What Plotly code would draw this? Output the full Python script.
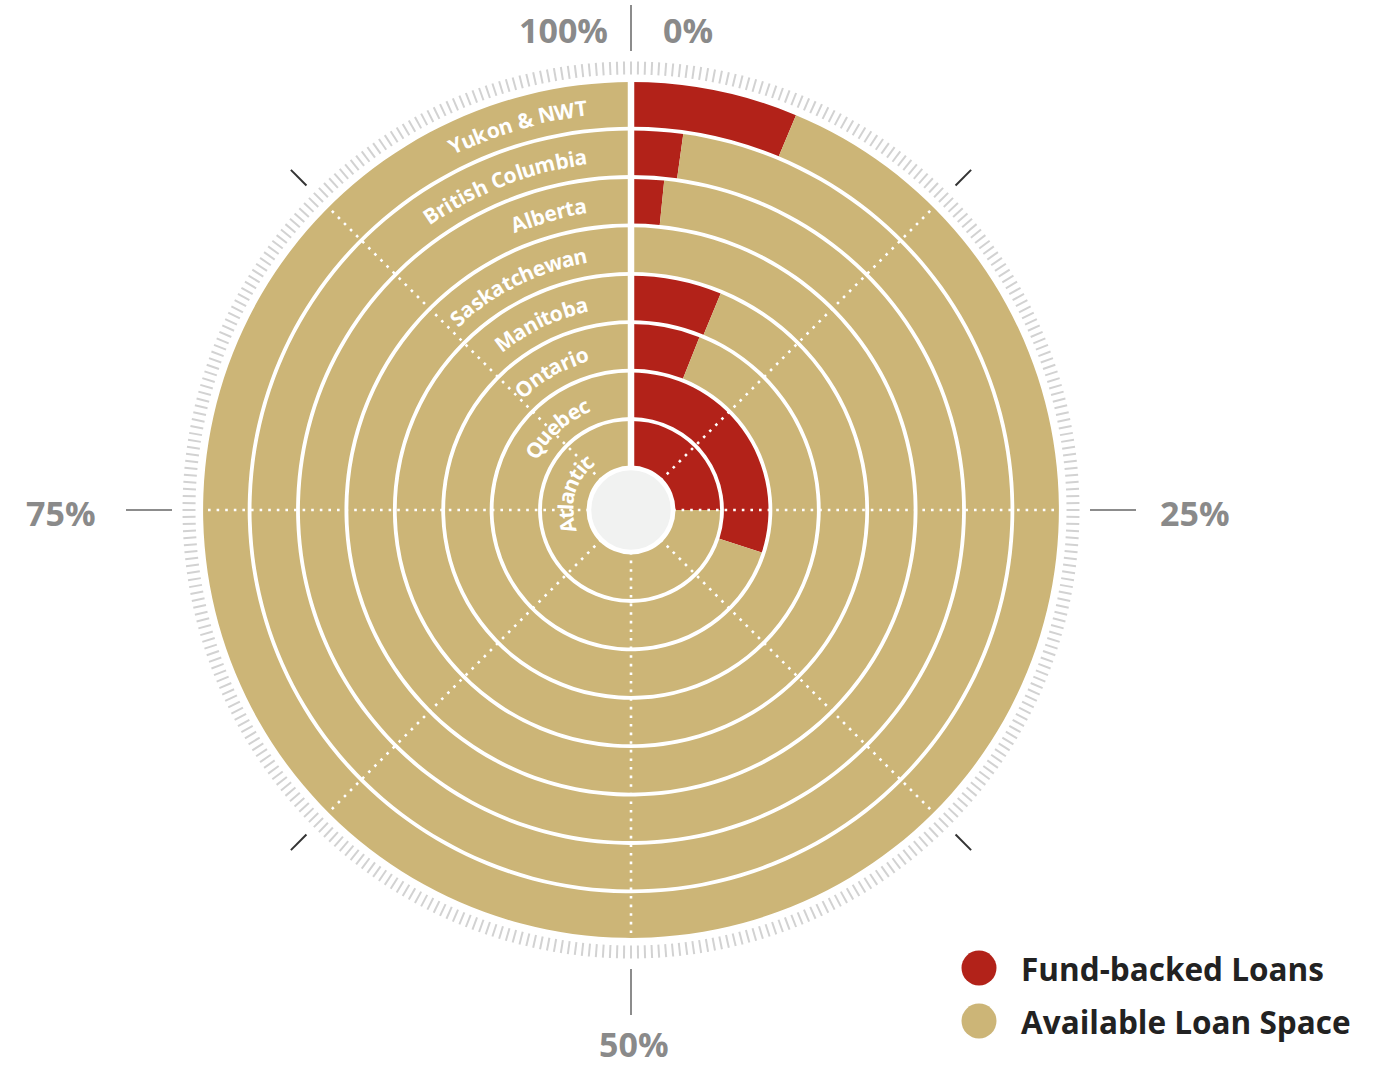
import math
import plotly.graph_objects as go

# ---------------- data ----------------
regions = ["Atlantic", "Quebec", "Ontario", "Manitoba",
           "Saskatchewan", "Alberta", "British Columbia", "Yukon & NWT"]
fund_backed_pct = [25.0, 30.0, 6.0, 6.25, 0.0, 1.6, 2.2, 6.3]
available_pct = [100.0 - v for v in fund_backed_pct]
series_names = ["Fund-backed Loans", "Available Loan Space"]
scale_labels = ["0%", "25%", "50%", "75%", "100%"]

# ---------------- styling / geometry ----------------
W, H = 1391, 1067
CX, CY = 631, 510          # centre of the polar chart (px)
R_AXIS = 435               # radial axis range max (px units)
HOLE = 42
PITCH = 48.4
BAND = 44.6
RED = "#b22219"
TAN = "#ccb577"
HOLE_FILL = "#f1f2f1"
DEG_PER_PCT = 3.6


def paper(px, py):
    return px / W, 1 - py / H


fig = go.Figure()

bases = [HOLE + 2.5 + PITCH * k for k in range(len(regions))]

# red (fund-backed) portions
fig.add_trace(go.Barpolar(
    r=[BAND] * len(regions),
    base=bases,
    theta=[v * DEG_PER_PCT / 2 for v in fund_backed_pct],
    width=[v * DEG_PER_PCT for v in fund_backed_pct],
    marker=dict(color=RED, line=dict(width=0)),
    name=series_names[0], showlegend=False,
    hovertext=regions,
))
# tan (available) portions
fig.add_trace(go.Barpolar(
    r=[BAND] * len(regions),
    base=bases,
    theta=[(f + a / 2) * DEG_PER_PCT for f, a in zip(fund_backed_pct, available_pct)],
    width=[a * DEG_PER_PCT for a in available_pct],
    marker=dict(color=TAN, line=dict(width=0)),
    name=series_names[1], showlegend=False,
    hovertext=regions,
))

# dotted radial guide lines every 12.5 %
r_out = bases[-1] + BAND
dot_r, dot_t = [], []
for q in range(1, 8):
    dot_r += [HOLE, r_out, None]
    dot_t += [q * 12.5 * DEG_PER_PCT] * 2 + [None]
fig.add_trace(go.Scatterpolar(
    r=dot_r, theta=dot_t, mode="lines",
    line=dict(color="white", width=2.6, dash="2.6px,6px"),
    hoverinfo="skip", showlegend=False, connectgaps=False,
))
# solid white line at 0 %
fig.add_trace(go.Scatterpolar(
    r=[HOLE, r_out + 2], theta=[0, 0], mode="lines",
    line=dict(color="white", width=6.5),
    hoverinfo="skip", showlegend=False,
))

dx0, dy0 = paper(CX - R_AXIS, CY + R_AXIS)
dx1, dy1 = paper(CX + R_AXIS, CY - R_AXIS)

shapes = []
annotations = []

# hole
hx0, hy0 = paper(CX - 41.5, CY + 41.5)
hx1, hy1 = paper(CX + 41.5, CY - 41.5)
shapes.append(dict(type="circle", xref="paper", yref="paper",
                   x0=hx0, y0=hy0, x1=hx1, y1=hy1,
                   fillcolor=HOLE_FILL, line=dict(color="white", width=3.5)))

# outer scale tick lines
for q in range(8):
    ang = math.radians(q * 45)
    if q % 2 == 0:
        r0, r1, col = 459, 505, "#8c8c8c"
    else:
        r0, r1, col = 459, 481, "#333333"
    x0, y0 = paper(CX + r0 * math.sin(ang), CY - r0 * math.cos(ang))
    x1, y1 = paper(CX + r1 * math.sin(ang), CY - r1 * math.cos(ang))
    shapes.append(dict(type="line", xref="paper", yref="paper",
                       x0=x0, y0=y0, x1=x1, y1=y1,
                       line=dict(color=col, width=2)))

# scale labels
label_pos = {"100%": (563, 30), "0%": (688, 30), "25%": (1195, 513),
             "75%": (61, 513), "50%": (634, 1044)}
for lab in scale_labels:
    px, py = label_pos[lab]
    x, y = paper(px, py)
    annotations.append(dict(x=x, y=y, xref="paper", yref="paper", text=lab,
                            showarrow=False, xanchor="center", yanchor="middle",
                            font=dict(family="Open Sans", size=34, color="#8a8a8a",
                                      weight="bold")))

# curved ring labels (one annotation per character)
CW = {" ": 0.26, "A": 0.677, "B": 0.67, "C": 0.624, "M": 0.905, "N": 0.77,
      "O": 0.778, "Q": 0.778, "S": 0.561, "T": 0.57, "W": 0.969, "Y": 0.595,
      "a": 0.604, "b": 0.624, "c": 0.51, "e": 0.59, "h": 0.641, "i": 0.3,
      "k": 0.613, "l": 0.3, "m": 0.956, "n": 0.641, "o": 0.617, "r": 0.439,
      "s": 0.515, "t": 0.418, "u": 0.641, "w": 0.826, "&": 0.778}
FS = 21
SP = 1.02
for k, name in enumerate(regions):
    r_mid = bases[k] + BAND / 2 - 1
    widths = [CW.get(c, 0.6) * FS * SP for c in name]
    s = -44 - sum(widths)
    for c, w in zip(name, widths):
        sc = s + w / 2
        phi = sc / r_mid
        s += w
        if c == " ":
            continue
        x, y = paper(CX + r_mid * math.sin(phi), CY - r_mid * math.cos(phi))
        annotations.append(dict(x=x, y=y, xref="paper", yref="paper", text=c,
                                showarrow=False, xanchor="center", yanchor="middle",
                                textangle=math.degrees(phi),
                                font=dict(family="Open Sans", size=FS, color="white",
                                          weight="bold")))

# custom legend
for i, (nm, col) in enumerate(zip(series_names, [RED, TAN])):
    cy = 968 + 53 * i
    x0, y0 = paper(979 - 17.5, cy + 17.5)
    x1, y1 = paper(979 + 17.5, cy - 17.5)
    shapes.append(dict(type="circle", xref="paper", yref="paper",
                       x0=x0, y0=y0, x1=x1, y1=y1, fillcolor=col,
                       line=dict(width=0)))
    tx, ty = paper(1019, cy)
    annotations.append(dict(x=tx, y=ty, xref="paper", yref="paper", text=nm,
                            showarrow=False, xanchor="left", yanchor="middle",
                            font=dict(family="Open Sans", size=31.5, color="#222222",
                                      weight="bold")))

fig.update_layout(
    width=W, height=H,
    margin=dict(l=0, r=0, t=0, b=0),
    paper_bgcolor="white",
    showlegend=False,
    polar=dict(
        domain=dict(x=[dx0, dx1], y=[dy0, dy1]),
        bgcolor="white",
        hole=0,
        radialaxis=dict(range=[0, R_AXIS], visible=False, showgrid=False),
        angularaxis=dict(
            rotation=90, direction="clockwise", thetaunit="degrees",
            showgrid=False, showline=False, showticklabels=False,
            ticks="outside", ticklen=13, tickwidth=2, tickcolor="#d2d2d2",
            tickmode="linear", tick0=0, dtick=0.9,
        ),
    ),
    shapes=shapes,
    annotations=annotations,
)

fig.write_html("out.html")
